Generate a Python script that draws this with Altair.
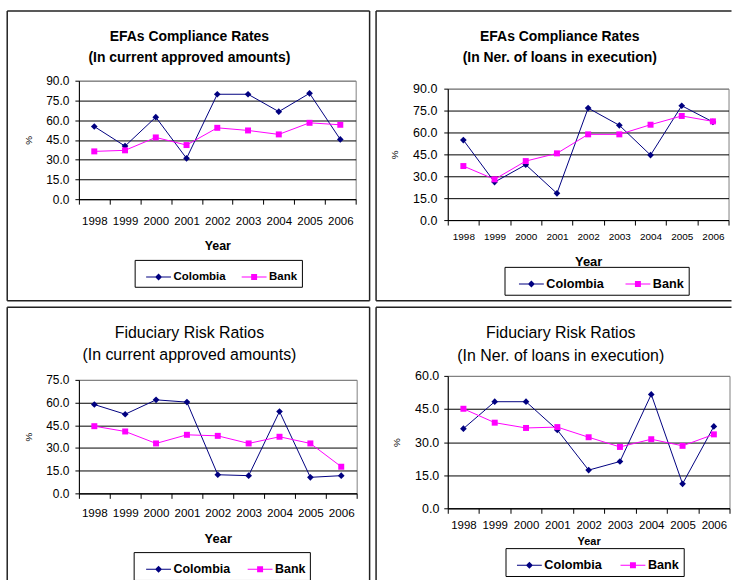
import altair as alt
import pandas as pd

# ---- data -------------------------------------------------------------
years = ["1998", "1999", "2000", "2001", "2002", "2003", "2004", "2005", "2006"]
series_names = ["Colombia", "Bank"]

efa_amounts_colombia = [55.2, 40.3, 62.3, 31.0, 79.7, 79.7, 66.5, 80.4, 45.4]
efa_amounts_bank = [36.3, 37.1, 46.9, 41.1, 54.2, 52.2, 49.2, 58.0, 56.5]

efa_loans_colombia = [54.8, 26.0, 37.9, 18.3, 76.7, 64.9, 44.5, 78.3, 67.2]
efa_loans_bank = [37.0, 27.9, 40.4, 45.7, 58.7, 58.7, 65.3, 71.3, 67.6]

risk_amounts_colombia = [58.7, 52.3, 61.8, 60.3, 12.3, 11.7, 54.1, 10.6, 11.7]
risk_amounts_bank = [44.4, 40.9, 33.0, 38.7, 38.0, 33.0, 37.4, 33.0, 17.6]

risk_loans_colombia = [36.1, 48.3, 48.3, 35.5, 17.3, 21.2, 51.6, 11.1, 37.1]
risk_loans_bank = [45.1, 38.8, 36.4, 36.8, 32.2, 27.8, 31.3, 28.3, 33.5]

# ---- style ------------------------------------------------------------
FONT = "Liberation Sans"
NAVY = "#000080"
MAGENTA = "#FF00FF"
series_colors = [NAVY, MAGENTA]
series_markers = [("diamond", 45), ("square", 36)]

# legend symbols: a short horizontal line with the series marker on it
# (unit coordinates, scaled by sqrt(symbolSize)/2)
LEGEND_SYMBOL_SIZE = 676
LEG_LINE = "M-0.96,-0.04L0.96,-0.04L0.96,0.04L-0.96,0.04Z"
LEG_DIAMOND = LEG_LINE + "M0,-0.27L0.27,0L0,0.27L-0.27,0Z"
LEG_SQUARE = LEG_LINE + "M-0.23,-0.23L0.23,-0.23L0.23,0.23L-0.23,0.23Z"

one_row = pd.DataFrame({"k": [0]})
INDEPENDENT = {"color": "independent", "shape": "independent"}


def long_table(colombia, bank):
    rows = []
    for name, vals in zip(series_names, [colombia, bank]):
        for y, v in zip(years, vals):
            rows.append({"year": y, "series": name, "value": v})
    return pd.DataFrame(rows)


def panel(colombia, bank, ymax, w, h, titles, title_font, frame, ax, lg):
    df = long_table(colombia, bank)
    color_scale = alt.Scale(domain=series_names, range=series_colors)

    x = alt.X(
        "year:O",
        scale=alt.Scale(type="band", domain=years, paddingInner=0, paddingOuter=0),
        axis=alt.Axis(
            title="Year",
            titleFontSize=ax["xtitle_fs"],
            titleFontWeight="bold",
            titlePadding=ax["xtitle_pad"],
            labelAngle=0,
            labelFontSize=ax["xlabel_fs"],
            labelPadding=ax["xlabel_pad"],
            labelOverlap=False,
            tickBand="extent",
            tickSize=5,
            grid=False,
        ),
    )
    y = alt.Y(
        "value:Q",
        scale=alt.Scale(domain=[0, ymax], nice=False, zero=True),
        axis=alt.Axis(
            title="%",
            titleFontSize=10,
            titleFontWeight="normal",
            titlePadding=ax["ytitle_pad"],
            values=list(range(0, ymax + 1, 15)),
            format=".1f",
            labelFontSize=ax["ylabel_fs"],
            labelPadding=ax["ylabel_pad"],
            tickSize=4,
            grid=True,
            gridColor={"condition": {"test": f"datum.value >= {ymax}", "value": "#808080"},
                       "value": "black"},
        ),
    )

    base = alt.Chart(df)
    series_layers = []
    for name, color, (shape, size) in zip(series_names, series_colors, series_markers):
        one = base.transform_filter(alt.datum.series == name)
        series_layers.append(one.mark_line(strokeWidth=1, color=color).encode(x=x, y=y))
        series_layers.append(
            one.mark_point(shape=shape, filled=True, size=size, color=color, opacity=1).encode(x=x, y=y)
        )

    # boxed legend; a blank, tiny title on the left gives the inner left margin
    # and trailing no-break spaces on the last label the inner right margin
    legend = alt.Legend(
        title=" ",
        titleOrient="left",
        titleFontSize=1,
        titlePadding=lg["inset"],
        orient="none",
        legendX=lg["x"],
        legendY=lg["y"],
        direction="horizontal",
        strokeColor="black",
        fillColor="white",
        padding=4,
        symbolSize=LEGEND_SYMBOL_SIZE,
        symbolStrokeWidth=0,
        symbolOffset=0,
        labelOffset=2,
        labelFont=FONT,
        labelFontSize=lg["fs"],
        labelFontWeight="bold",
        labelColor="black",
        labelExpr="datum.label == 'Bank' ? datum.label + '\u00a0\u00a0' : datum.label",
        columnPadding=lg["colpad"],
    )
    legend_layer = base.transform_filter("false").mark_point(filled=True, opacity=1).encode(
        color=alt.Color("series:N", scale=color_scale, legend=legend),
        shape=alt.Shape("series:N",
                        scale=alt.Scale(domain=series_names, range=[LEG_DIAMOND, LEG_SQUARE]),
                        legend=legend),
    )

    title_layers = [
        alt.Chart(one_row).mark_text(
            font=FONT, fontSize=title_font["fs"], fontWeight=title_font["weight"],
            align="center", baseline="middle", color="black",
        ).encode(x=alt.value(titles["x"]), y=alt.value(ty), text=alt.value(txt))
        for txt, ty in zip(titles["lines"], titles["ys"])
    ]

    frame_layers = [
        alt.Chart(one_row).mark_rule(color="#222222", strokeWidth=1.5).encode(
            x=alt.value(x1), x2=alt.value(x2), y=alt.value(y1), y2=alt.value(y2)
        )
        for (x1, x2, y1, y2) in frame
    ]

    return alt.layer(
        *series_layers, legend_layer, *title_layers, *frame_layers
    ).properties(width=w, height=h)


def spacer():
    # a 1px invisible strip at the head of each column, so that the frames
    # of both columns start on the same line
    return alt.Chart(one_row).mark_rule(opacity=0).encode(
        x=alt.value(0), x2=alt.value(1), y=alt.value(0)
    ).properties(width=1, height=1, view=alt.ViewBackground(stroke="transparent"))


tl = panel(
    efa_amounts_colombia, efa_amounts_bank, 90, 278, 119,
    {"lines": ["EFAs Compliance Rates", "(In current approved amounts)"], "x": 111, "ys": [-44, -23]},
    {"fs": 14, "weight": "bold"},
    [(-72, -72, -70, 221), (292, 292, -70, 221), (-72, 292, -70, -70), (-72, 292, 221, 221)],
    {"xtitle_fs": 12.5, "xtitle_pad": 13.5, "xlabel_fs": 11.5, "xlabel_pad": 11,
     "ytitle_pad": 12, "ylabel_fs": 12, "ylabel_pad": 6},
    {"x": 56, "y": 180, "inset": 7, "fs": 11.5, "colpad": 15},
)

tr = panel(
    efa_loans_colombia, efa_loans_bank, 90, 282, 132,
    {"lines": ["EFAs Compliance Rates", "(In Ner. of loans in execution)"], "x": 112.5, "ys": [-52, -31]},
    {"fs": 14, "weight": "bold"},
    [(-72, -72, -78, 213), (-72, 285, -78, -78), (-72, 285, 213, 213)],
    {"xtitle_fs": 13, "xtitle_pad": 14.5, "xlabel_fs": 10, "xlabel_pad": 6.5,
     "ytitle_pad": 13, "ylabel_fs": 12.5, "ylabel_pad": 7},
    {"x": 57, "y": 179, "inset": 10, "fs": 12.7, "colpad": 21},
)

bl = panel(
    risk_amounts_colombia, risk_amounts_bank, 75, 279, 114,
    {"lines": ["Fiduciary Risk Ratios", "(In current approved amounts)"], "x": 111, "ys": [-47, -25]},
    {"fs": 16, "weight": "normal"},
    [(-72, -72, -73, 205), (292, 292, -73, 205), (-72, 292, -73, -73)],
    {"xtitle_fs": 13, "xtitle_pad": 13, "xlabel_fs": 11.7, "xlabel_pad": 9.5,
     "ytitle_pad": 12, "ylabel_fs": 12, "ylabel_pad": 6},
    {"x": 55, "y": 173, "inset": 8, "fs": 12.5, "colpad": 17},
)

br = panel(
    risk_loans_colombia, risk_loans_bank, 60, 283, 133,
    {"lines": ["Fiduciary Risk Ratios", "(In Ner. of loans in execution)"], "x": 113.5, "ys": [-43, -20]},
    {"fs": 16, "weight": "normal"},
    [(-72, -72, -69, 209), (-72, 285, -69, -69)],
    {"xtitle_fs": 11, "xtitle_pad": 5, "xlabel_fs": 11.5, "xlabel_pad": 6,
     "ytitle_pad": 13, "ylabel_fs": 12.5, "ylabel_pad": 5},
    {"x": 58, "y": 173, "inset": 7, "fs": 12.7, "colpad": 18},
)


def column(top, bottom):
    panels = alt.vconcat(top, bottom, spacing=2.5).resolve_scale(**INDEPENDENT)
    return alt.vconcat(spacer(), panels, spacing=0).resolve_scale(**INDEPENDENT)


chart = (
    alt.hconcat(column(tl, bl), column(tr, br), spacing=2.5)
    .resolve_scale(**INDEPENDENT)
    .configure(
        font=FONT,
        padding={"left": 5.25, "top": 4.75, "right": 0, "bottom": 0},
        background="white",
    )
    .configure_view(stroke="#808080", strokeWidth=1)
    .configure_axis(
        labelFont=FONT,
        titleFont=FONT,
        labelColor="black",
        titleColor="black",
        domainColor="black",
        domainWidth=1,
        tickColor="black",
        tickWidth=1,
        gridWidth=1,
    )
)

chart.save("out.html", embed_options={"renderer": "svg", "actions": False})
